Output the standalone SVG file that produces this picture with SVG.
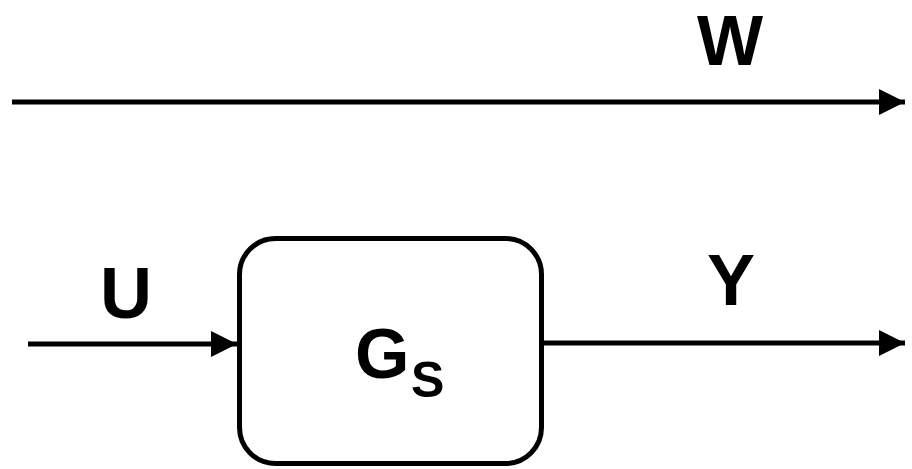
<svg xmlns="http://www.w3.org/2000/svg" width="912" height="469" viewBox="0 0 912 469">
<style>
.ln{stroke:#000;stroke-width:5;fill:none}
.bx{stroke:#000;stroke-width:5;fill:#fff}
.lb{font-family:"Liberation Sans",Arial,sans-serif;font-weight:bold;fill:#000}
</style>
<defs>
<marker id="ah" markerUnits="userSpaceOnUse" markerWidth="26" markerHeight="26" refX="26" refY="13" orient="auto">
<path d="M0,0 L26,13 L0,26 Z" fill="#000"/>
</marker>
</defs>
<rect width="912" height="469" fill="#fff"/>
<g id="connectors">
<line class="ln" x1="12" y1="102" x2="905" y2="102" marker-end="url(#ah)"/>
<line class="ln" x1="28" y1="344" x2="237" y2="344" marker-end="url(#ah)"/>
<line class="ln" x1="542" y1="343" x2="905" y2="343" marker-end="url(#ah)"/>
</g>
<g id="gs">
<rect class="bx" x="239.5" y="238.5" width="302" height="225" rx="36" ry="36"/>
<text class="lb" x="355" y="378" font-size="70">G</text>
<text class="lb" x="411" y="397" font-size="50">S</text>
</g>
<g id="labels">
<text class="lb" x="730" y="65" font-size="70" text-anchor="middle">W</text>
<text class="lb" x="126" y="318" font-size="72" text-anchor="middle">U</text>
<text class="lb" x="731" y="305" font-size="72" text-anchor="middle">Y</text>
</g>
</svg>
